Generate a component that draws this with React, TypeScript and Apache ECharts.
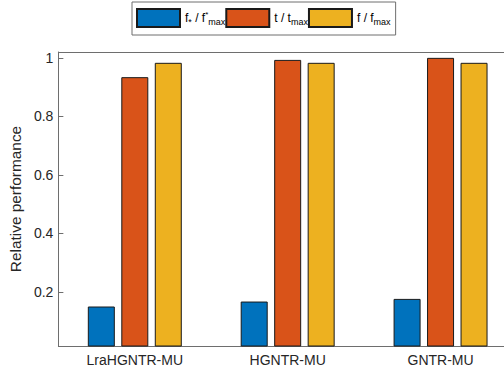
import React, { useEffect, useRef } from "react";
import * as echarts from "echarts";

const categories = ["LraHGNTR-MU", "HGNTR-MU", "GNTR-MU"];
const fStarRatio = [0.15, 0.167, 0.176];
const tRatio = [0.934, 0.993, 1.0];
const fRatio = [0.983, 0.983, 0.983];
const yTicks = [0.2, 0.4, 0.6, 0.8, 1];
const seriesNames = ["f* / f*max", "t / tmax", "f / fmax"];
const colors = ["#0072BD", "#D95319", "#EDB120"];

const legendLabels: Record<string, string> = {
  "f* / f*max": "{n|f}{s|*}{n| / f}{p|*}{s|max}",
  "t / tmax": "{n|t / t}{s|max}",
  "f / fmax": "{n|f / f}{s|max}",
};

export default function App() {
  const ref = useRef<HTMLDivElement>(null);
  useEffect(() => {
    if (!ref.current) return;
    const chart = echarts.init(ref.current, null, { renderer: "svg" });
    const axisColor = "#6e6e6e";
    const textColor = "#262626";
    const font = "Liberation Sans, Arial, Helvetica, sans-serif";
    const data = [fStarRatio, tRatio, fRatio];
    const textWidths = [50, 44, 36];
    chart.setOption({
      animation: false,
      textStyle: { fontFamily: font },
      legend: {
        left: 132,
        top: 2,
        orient: "horizontal",
        itemGap: 0,
        itemWidth: 43,
        itemHeight: 18,
        icon: "rect",
        padding: [6, 5, 7, 4],
        borderColor: axisColor,
        borderWidth: 1,
        backgroundColor: "#fff",
        data: seriesNames.map((n, i) => ({ name: n, textStyle: { width: textWidths[i] } })),
        formatter: (name: string) => legendLabels[name] || name,
        textStyle: {
          fontFamily: font,
          color: "#000",
          rich: {
            n: { fontSize: 12, lineHeight: 16, verticalAlign: "middle", color: "#000", fontFamily: font },
            s: { fontSize: 9, lineHeight: 10, verticalAlign: "bottom", color: "#000", fontFamily: font },
            p: { fontSize: 8, lineHeight: 10, verticalAlign: "top", color: "#000", fontFamily: font },
          },
        },
      },
      grid: { left: 58, right: 3, top: 52, bottom: 29, containLabel: false },
      xAxis: [
        {
          type: "category",
          data: categories,
          position: "bottom",
          axisLine: { lineStyle: { color: axisColor, width: 1 } },
          axisTick: { inside: true, alignWithLabel: true, length: 5, lineStyle: { color: axisColor } },
          axisLabel: { color: textColor, fontSize: 14, margin: 7, fontFamily: font },
        },
        {
          type: "category",
          data: categories,
          position: "top",
          axisLine: { lineStyle: { color: axisColor, width: 1 } },
          axisTick: { inside: true, alignWithLabel: true, length: 5, lineStyle: { color: axisColor } },
          axisLabel: { show: false },
        },
      ],
      yAxis: {
        type: "value",
        min: 0.015,
        max: 1.02,
        name: "Relative performance",
        nameLocation: "middle",
        nameGap: 31,
        nameTextStyle: { color: textColor, fontSize: 15.4, fontFamily: font },
        axisLine: { show: true, lineStyle: { color: axisColor, width: 1 } },
        axisTick: { show: true, inside: true, length: 5, customValues: yTicks, lineStyle: { color: axisColor } },
        axisLabel: {
          color: textColor,
          fontSize: 14,
          margin: 5,
          fontFamily: font,
          customValues: yTicks,
          formatter: (v: number) => String(Math.round(v * 10) / 10),
        },
        splitLine: { show: false },
      },
      series: seriesNames.map((n, i) => ({
        name: n,
        type: "bar",
        data: data[i],
        barWidth: 27,
        barGap: "24%",
        itemStyle: { color: colors[i], borderColor: "#1a1a1a", borderWidth: 1 },
      })),
    });
    return () => chart.dispose();
  }, []);
  return (
    <div
      ref={ref}
      style={{ position: "fixed", left: 0, top: 0, width: 520, height: 375, background: "#fff" }}
    />
  );
}
